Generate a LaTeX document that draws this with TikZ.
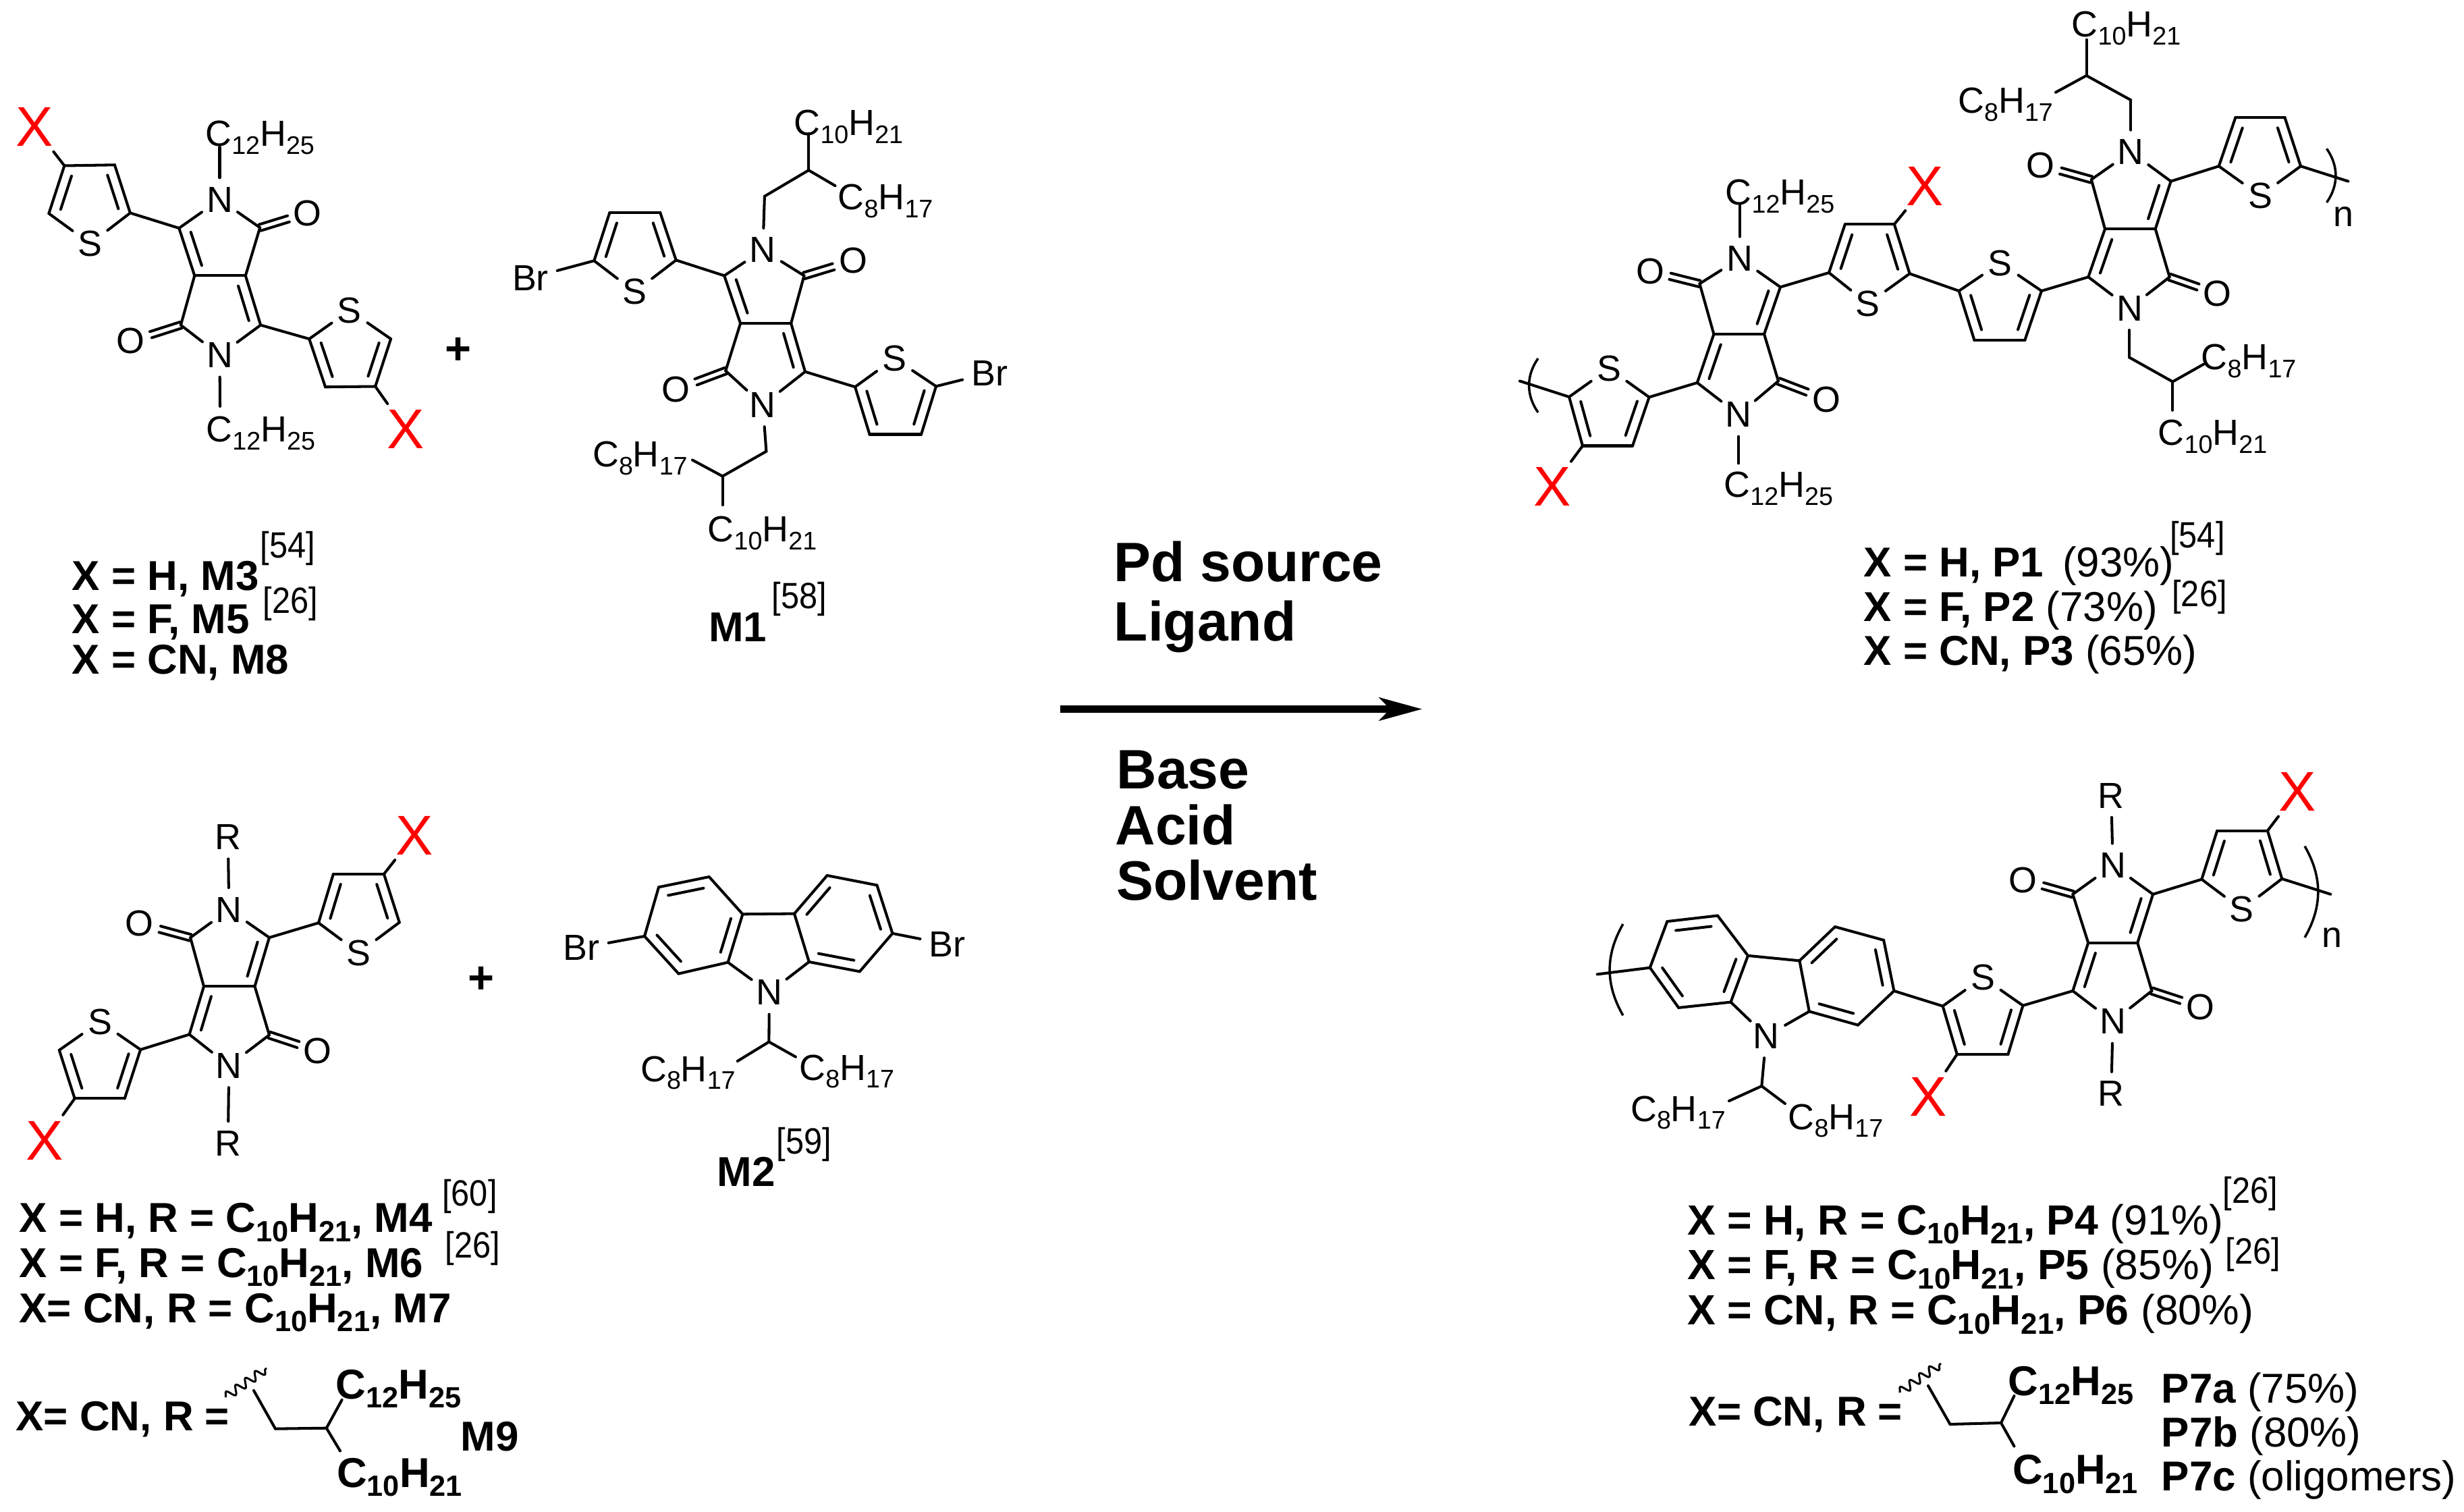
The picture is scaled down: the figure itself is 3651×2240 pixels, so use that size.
\documentclass[tikz,border=0pt]{standalone}
\usepackage{fontspec}
\setmainfont{Liberation Sans}
\usetikzlibrary{calc,arrows.meta,decorations.pathmorphing}

\newcommand{\sbc}[1]{\raisebox{-.22em}{\scalebox{.7}{#1}}}
\newcommand{\alkyl}[2]{C\sbc{#1}H\sbc{#2}}
\newcommand{\citeno}[1]{\scalebox{.9}[1]{[#1]}}
\newcommand{\dbond}[2]{\draw[bond] ($(#1)!.15!(#2)!4.2pt!90:(#2)$) -- ($(#2)!.15!(#1)!4.2pt!-90:(#1)$);}
\newcommand{\cobond}[2]{%
  \coordinate (cotip) at ($(#1)!.6!(#2)$);
  \draw[bond] ($(#1)!1.35pt!90:(#2)$) -- ($(cotip)!1.35pt!-90:(#1)$);
  \draw[bond] ($(#1)!1.35pt!-90:(#2)$) -- ($(cotip)!1.35pt!90:(#1)$);}
\newcommand{\thio}[6]{%
  \node[atom] (#1s) at (#2) {S};
  \coordinate (#11) at (#3); \coordinate (#12) at (#4);
  \coordinate (#13) at (#5); \coordinate (#14) at (#6);
  \path[bond] (#1s) edge (#11) (#11) edge (#12) (#12) edge (#13) (#13) edge (#14) (#14) edge (#1s);
  \dbond{#11}{#12} \dbond{#13}{#14}}
\newcommand{\lactam}[7]{%
  \coordinate (#1c1) at (#2); \node[atom] (#1n) at (#3) {N};
  \coordinate (#1c2) at (#4); \node[atom] (#1o) at (#5) {O};
  \path[bond] (#1c1) edge (#1n) (#1n) edge (#1c2) (#1c1) edge (#6) (#1c2) edge (#7);
  \cobond{#1c2}{#1o}}
\newcommand{\carbrings}[1]{%
  \path[bond] (#11) edge (#12) (#12) edge (#13) (#13) edge (#14) (#14) edge (#15)
  (#15) edge (#16) (#16) edge (#11) (#14) edge (#17) (#17) edge (#18) (#18) edge (#19)
  (#19) edge (#110) (#110) edge (#111) (#111) edge (#112) (#112) edge (#17)
  (#15) edge (#1n) (#1n) edge (#112);
  \dbond{#13}{#12} \dbond{#15}{#14} \dbond{#11}{#16}
  \dbond{#18}{#17} \dbond{#110}{#19} \dbond{#112}{#111}}

\begin{document}
\begin{tikzpicture}[
    x=0.01cm,y=-0.01cm,
    bond/.style={line width=1.15pt,line cap=round},
    atom/.style={circle,inner sep=0pt,minimum size=18pt,font=\fontsize{15.3}{18}\selectfont},
    brom/.style={atom,minimum size=23pt},
    xatom/.style={circle,inner sep=0pt,minimum size=26pt,text=red,font=\fontsize{23.6}{28}\selectfont},
    chain/.style={anchor=base west,inner sep=0pt,xshift=-1.1pt,font=\fontsize{15.3}{18}\selectfont},
    tag/.style={anchor=base west,inner sep=0pt,font=\fontsize{17.6}{20}\selectfont\bfseries},
    tagp/.style={tag,font=\fontsize{17.8}{20}\selectfont\bfseries},
    refnum/.style={anchor=base west,inner sep=0pt,font=\fontsize{15.4}{18}\selectfont},
    cond/.style={anchor=base west,inner sep=0pt,font=\fontsize{23.4}{28}\selectfont\bfseries},
    plus/.style={inner sep=0pt,font=\fontsize{19}{20}\selectfont\bfseries},
    wavy/.style={line width=.85pt,decorate,decoration={snake,amplitude=1.8pt,segment length=5pt}}
    ]
    \useasboundingbox (0,0) rectangle (3651,2240);

    % M3 M5 M8
    \coordinate (a3) at (363.8,408.4);
    \coordinate (a4) at (288.3,408.4);
    \path[bond] (a3) edge (a4);
    \lactam{au}{265.3,338}{325.5,295.7}{385.2,337.2}{455.6,315.5}{a4}{a3}
    \lactam{ad}{386.2,481.6}{325.5,526.2}{267.9,481.6}{193.9,505.3}{a3}{a4}
    \dbond{auc1}{a4} \dbond{adc1}{a3}
    \thio{atl}{133.7,361}{192.9,315.5}{169.9,244.3}{95.4,245.5}{72.4,316.3}
    \thio{atr}{517.9,459.8}{458.2,502.1}{482.1,573.3}{556.1,572.5}{579.1,502.1}
    \node[xatom] (axl) at (51,188) {X};
    \node[xatom] (axr) at (601,636) {X};
    \node[chain] (art) at (307.6,217) {\alkyl{12}{25}};
    \node[chain] (arb) at (308.7,655) {\alkyl{12}{25}};
    \coordinate (artc) at (325.5,218);
    \coordinate (arbc) at (326,602);
    \path[bond] (atl1) edge (auc1) (atr1) edge (adc1) (atl3) edge (axl) (atr3) edge (axr)
    (aun) edge (artc) (adn) edge (arbc);
    \node[plus] (plusa) at (678.6,520) {+};

    % M1
    \coordinate (b3) at (1172.1,479.1);
    \coordinate (b4) at (1097.1,479.1);
    \path[bond] (b3) edge (b4);
    \lactam{bu}{1073.2,408.4}{1130.3,370.3}{1191.5,408.4}{1264,386.3}{b4}{b3}
    \lactam{bd}{1193,550.7}{1130.3,599.9}{1075.2,549.4}{1001.7,576.9}{b3}{b4}
    \dbond{buc1}{b4} \dbond{bdc1}{b3}
    \thio{btl}{940.5,432.3}{1001.7,385.4}{978.3,315.2}{903.3,315.2}{880.3,386.3}
    \thio{btr}{1325.2,531}{1267,573.2}{1288.5,643.5}{1365,643.5}{1387,572.3}
    \node[brom] (bbl) at (786,411.6) {Br};
    \node[brom] (bbr) at (1466,552.6) {Br};
    \node[chain] (bt10) at (1179.8,201) {\alkyl{10}{21}};
    \node[chain] (bt8) at (1245,311) {C\sbc{8}H\sbc{17}};
    \node[chain] (bb8) at (881.3,692) {C\sbc{8}H\sbc{17}};
    \node[chain] (bb10) at (1052,802.5) {\alkyl{10}{21}};
    \coordinate (bk1) at (1132.9,290.8);
    \coordinate (bj1) at (1198.2,252.2);
    \coordinate (be1) at (1198.2,198);
    \coordinate (be2) at (1237.5,275.2);
    \coordinate (bk2) at (1135.4,668.7);
    \coordinate (bj2) at (1070.6,705.5);
    \coordinate (be3) at (1026,681.5);
    \coordinate (be4) at (1070.6,748.2);
    \path[bond] (btl1) edge (buc1) (btr1) edge (bdc1) (btl4) edge (bbl) (btr4) edge (bbr)
    (bun) edge (bk1) (bk1) edge (bj1) (bj1) edge (be1) (bj1) edge (be2)
    (bdn) edge (bk2) (bk2) edge (bj2) (bj2) edge (be3) (bj2) edge (be4);

    % M4 M6 M7
    \coordinate (c3) at (302,1461.3);
    \coordinate (c4) at (377.5,1461.3);
    \path[bond] (c3) edge (c4);
    \lactam{cu}{399,1389}{339.3,1347.5}{282.1,1389}{206.6,1368.4}{c4}{c3}
    \lactam{cd}{280.6,1532.5}{339.3,1578.8}{399,1533.3}{470.4,1557}{c3}{c4}
    \dbond{c4}{cuc1} \dbond{c3}{cdc1}
    \thio{ctr}{531.6,1411.5}{591.8,1366.5}{568.9,1294.9}{493.9,1294.9}{472,1367.2}
    \thio{ctl}{148,1513.5}{87.8,1555.8}{110.7,1627.4}{184.7,1627.4}{208.2,1555}
    \node[xatom] (cxr) at (613.8,1237.5) {X};
    \node[xatom] (cxl) at (66.3,1689.5) {X};
    \node[atom] (crt) at (337.8,1240) {R};
    \node[atom] (crb) at (337.8,1693.5) {R};
    \path[bond] (ctr4) edge (cuc1) (ctl4) edge (cdc1) (ctr2) edge (cxr) (ctl2) edge (cxl)
    (cun) edge (crt) (cdn) edge (crb);
    \node[plus] (plusb) at (712.8,1452.3) {+};

    % M2
    \coordinate (g1) at (955,1387);
    \coordinate (g2) at (976,1314.3);
    \coordinate (g3) at (1050.7,1299);
    \coordinate (g4) at (1100.4,1354.3);
    \coordinate (g5) at (1078.6,1425.7);
    \coordinate (g6) at (1005.5,1442.5);
    \coordinate (g7) at (1177,1353.6);
    \coordinate (g8) at (1225.6,1297);
    \coordinate (g9) at (1299.4,1311.4);
    \coordinate (g10) at (1322.4,1382.8);
    \coordinate (g11) at (1273.8,1439.3);
    \coordinate (g12) at (1198.8,1425);
    \node[atom] (gn) at (1139.8,1470.3) {N};
    \carbrings{g}
    \node[brom] (gbl) at (861.2,1404.3) {Br};
    \node[brom] (gbr) at (1403.8,1399) {Br};
    \node[chain] (gl8) at (952.3,1602) {C\sbc{8}H\sbc{17}};
    \node[chain] (gr8) at (1187.7,1600) {C\sbc{8}H\sbc{17}};
    \coordinate (gj) at (1139.4,1543.5);
    \coordinate (ge1) at (1092.8,1572);
    \coordinate (ge2) at (1178.9,1565.7);
    \path[bond] (g1) edge (gbl) (g10) edge (gbr) (gn) edge (gj) (gj) edge (ge1) (gj) edge (ge2);

    % P1 P2 P3
    \coordinate (d3) at (2539.4,495);
    \coordinate (d4) at (2614,495);
    \path[bond] (d3) edge (d4);
    \lactam{du}{2638,425.3}{2577.7,383}{2518.4,420.3}{2445.4,402}{d4}{d3}
    \lactam{dd}{2514.8,567}{2576,614.3}{2635,564.6}{2706.4,592}{d3}{d4}
    \dbond{d4}{duc1} \dbond{d3}{ddc1}
    \coordinate (e3) at (3119,339.2);
    \coordinate (e4) at (3193.7,339.2);
    \path[bond] (e3) edge (e4);
    \lactam{eu}{3216.6,268.6}{3157.2,225}{3098.8,266}{3023,244.7}{e4}{e3}
    \lactam{ed}{3094.3,410.4}{3155.4,456.6}{3214.7,410.4}{3285,435}{e3}{e4}
    \dbond{e4}{euc1} \dbond{e3}{edc1}
    \thio{pa}{2384,546}{2325,588}{2345,660.5}{2419,660.5}{2443.6,588.4}
    \thio{pb}{2767.6,450}{2829.6,405.4}{2806.8,332.3}{2733.8,332.3}{2710,404}
    \thio{pc}{2963.8,389.5}{2902.6,431}{2925.4,503.9}{3000.3,503.9}{3025,431}
    \thio{pd}{3349,290}{3409,246.2}{3385.4,174}{3312.4,174}{3287.7,246.2}
    \node[xatom] (pxa) at (2300.3,721) {X};
    \node[xatom] (pxb) at (2852.4,276) {X};
    \node[chain] (dt) at (2560,304) {\alkyl{12}{25}};
    \node[chain] (db) at (2557.7,737) {\alkyl{12}{25}};
    \coordinate (dtc) at (2577.7,303);
    \coordinate (dbc) at (2576,686.4);
    \coordinate (ptl) at (2252,564.5);
    \coordinate (ptr) at (3479.4,268.6);
    \coordinate (pl1) at (2279,531);
    \coordinate (pl2) at (2279,611);
    \coordinate (pr1) at (3447.5,220.3);
    \coordinate (pr2) at (3447.5,300);
    \node[atom] (pn) at (3472,321) {n};
    \path[bond] (pa1) edge (ptl) (pa2) edge (pxa) (pa4) edge (ddc1) (duc1) edge (pb4)
    (pb2) edge (pxb) (pb1) edge (pc1) (pc4) edge (edc1) (euc1) edge (pd4) (pd1) edge (ptr)
    (dun) edge (dtc) (ddn) edge (dbc);
    \draw[line width=1pt] (pl1) to[bend right=35] (pl2);
    \draw[line width=1pt] (pr1) to[bend left=35] (pr2);
    \node[chain] (et10) at (3073,55) {\alkyl{10}{21}};
    \node[chain] (et8) at (2904.5,168) {C\sbc{8}H\sbc{17}};
    \node[chain] (eb8) at (3265,548) {C\sbc{8}H\sbc{17}};
    \node[chain] (eb10) at (3201,660) {\alkyl{10}{21}};
    \coordinate (ek1) at (3157.2,148.2);
    \coordinate (ej1) at (3091.5,112);
    \coordinate (ee1) at (3091.5,58.7);
    \coordinate (ee2) at (3046,136.8);
    \coordinate (ek2) at (3155.4,529.7);
    \coordinate (ej2) at (3219.3,565.5);
    \coordinate (ee3) at (3265,539.7);
    \coordinate (ee4) at (3219.3,607.8);
    \path[bond] (eun) edge (ek1) (ek1) edge (ej1) (ej1) edge (ee1) (ej1) edge (ee2)
    (edn) edge (ek2) (ek2) edge (ej2) (ej2) edge (ee3) (ej2) edge (ee4);

    % P4 P5 P6
    \coordinate (h1) at (2444.8,1433.6);
    \coordinate (h2) at (2470.3,1365.1);
    \coordinate (h3) at (2545,1356.5);
    \coordinate (h4) at (2590,1415.8);
    \coordinate (h5) at (2564.5,1484.6);
    \coordinate (h6) at (2487.2,1492.9);
    \coordinate (h7) at (2666.4,1423.3);
    \coordinate (h8) at (2719,1373);
    \coordinate (h9) at (2791.1,1392.8);
    \coordinate (h10) at (2806.4,1468);
    \coordinate (h11) at (2753,1518.6);
    \coordinate (h12) at (2680.8,1498.4);
    \node[atom] (hn) at (2617,1535) {N};
    \carbrings{h}
    \coordinate (f3) at (3094.2,1396.8);
    \coordinate (f4) at (3167.2,1396.8);
    \path[bond] (f3) edge (f4);
    \lactam{fu}{3190.1,1324.8}{3130.7,1282}{3071.3,1324.8}{2997.4,1303.9}{f4}{f3}
    \lactam{fd}{3071.3,1468}{3130.7,1513.4}{3188.4,1468}{3260.6,1491.7}{f3}{f4}
    \dbond{f4}{fuc1} \dbond{f3}{fdc1}
    \thio{qa}{2938,1448.2}{2878.6,1490.5}{2899.8,1562}{2975.4,1562}{2997.4,1489.7}
    \thio{qb}{3321.7,1347.4}{3381.2,1301.9}{3359.9,1230.7}{3285.2,1230.7}{3262.3,1302.7}
    \node[xatom] (qxa) at (2857.4,1625.3) {X};
    \node[xatom] (qxb) at (3404,1172.6) {X};
    \node[atom] (frt) at (3128.2,1178.5) {R};
    \node[atom] (frb) at (3128.2,1620.2) {R};
    \node[chain] (hl8) at (2419.3,1661) {C\sbc{8}H\sbc{17}};
    \node[chain] (hr8) at (2652.8,1673) {C\sbc{8}H\sbc{17}};
    \coordinate (hj) at (2610.3,1609);
    \coordinate (he1) at (2562,1631);
    \coordinate (he2) at (2645,1635);
    \coordinate (qtl) at (2366.7,1443.4);
    \coordinate (qtr) at (3453.3,1324.8);
    \coordinate (ql1) at (2404.9,1369);
    \coordinate (ql2) at (2404.9,1504.3);
    \coordinate (qr1) at (3415,1253.6);
    \coordinate (qr2) at (3415,1388.9);
    \node[atom] (qn) at (3455,1389) {n};
    \path[bond] (h1) edge (qtl) (h10) edge (qa1) (qa2) edge (qxa) (qa4) edge (fdc1)
    (fuc1) edge (qb4) (qb2) edge (qxb) (qb1) edge (qtr)
    (fun) edge (frt) (fdn) edge (frb)
    (hn) edge (hj) (hj) edge (he1) (hj) edge (he2);
    \draw[line width=1pt] (ql1) to[bend right=30] (ql2);
    \draw[line width=1pt] (qr1) to[bend left=30] (qr2);

    % reaction arrow
    \coordinate (arl) at (1571,1050.5);
    \coordinate (arr) at (2107.4,1050.5);
    \draw[line width=3pt,-{Stealth[length=18pt,width=9.6pt,inset=4.5pt]}] (arl) -- (arr);
    \node[cond] (cpd) at (1650,861.8) {Pd source};
    \node[cond] (clg) at (1650,949) {Ligand};
    \node[cond] (cba) at (1654,1168) {Base};
    \node[cond] (cac) at (1652,1251.4) {Acid};
    \node[cond] (cso) at (1654,1333) {Solvent};

    % compound lists
    \node[tag] (lm3) at (106,874) {X = H, M3};
    \node[tag] (lm5) at (106,938.3) {X = F, M5};
    \node[tag] (lm8) at (106,998) {X = CN, M8};
    \node[refnum] (r54a) at (385,827) {\citeno{54}};
    \node[refnum] (r26a) at (389,909) {\citeno{26}};
    \node[tag] (lm1) at (1049.5,950) {M1};
    \node[refnum] (r58) at (1143,901.7) {\citeno{58}};
    \node[tag] (lm2) at (1062,1757.8) {M2};
    \node[refnum] (r59) at (1150,1709.6) {\citeno{59}};

    \node[tag] (lm4) at (28,1825.7) {X = H, R = \alkyl{10}{21}, M4};
    \node[tag] (lm6) at (28,1892) {X = F, R = \alkyl{10}{21}, M6};
    \node[tag] (lm7) at (28,1959) {X= CN, R = \alkyl{10}{21}, M7};
    \node[refnum] (r60) at (654.6,1786) {\citeno{60}};
    \node[refnum] (r26b) at (659,1863.6) {\citeno{26}};

    \node[tag] (lm9r) at (23,2119) {X= CN, R =};
    \coordinate (mw1) at (334,2070);
    \coordinate (mw2) at (395,2027);
    \coordinate (mb1) at (376,2060);
    \coordinate (mb2) at (408,2116.7);
    \coordinate (mb3) at (483.7,2115.7);
    \coordinate (mb4) at (506.6,2074);
    \coordinate (mb5) at (504,2149.5);
    \draw[wavy] (mw1) -- (mw2);
    \path[bond] (mb1) edge (mb2) (mb2) edge (mb3) (mb3) edge (mb4) (mb3) edge (mb5);
    \node[tag] (m12) at (497,2072) {\alkyl{12}{25}};
    \node[tag] (m10) at (498.5,2203) {\alkyl{10}{21}};
    \node[tag] (lm9) at (682,2149.5) {M9};

    \node[tag] (lp1) at (2761,854.3) {X = H, P1\hspace{.45em}{\mdseries (93\%)}};
    \node[tag] (lp2) at (2761,920) {X = F, P2 {\mdseries (73\%)}};
    \node[tag] (lp3) at (2761,985) {X = CN, P3 {\mdseries (65\%)}};
    \node[refnum] (r54b) at (3214.6,811.7) {\citeno{54}};
    \node[refnum] (r26c) at (3217.7,899) {\citeno{26}};

    \node[tagp] (lp4) at (2500,1829) {X = H, R = \alkyl{10}{21}, P4 {\mdseries (91\%)}};
    \node[tagp] (lp5) at (2500,1895.6) {X = F, R = \alkyl{10}{21}, P5 {\mdseries (85\%)}};
    \node[tagp] (lp6) at (2500,1962.4) {X = CN, R = \alkyl{10}{21}, P6 {\mdseries (80\%)}};
    \node[refnum] (r26d) at (3293,1782.6) {\citeno{26}};
    \node[refnum] (r26e) at (3297,1872) {\citeno{26}};

    \node[tag] (lp7r) at (2502,2112) {X= CN, R =};
    \coordinate (pw1) at (2814.6,2063);
    \coordinate (pw2) at (2876,2020);
    \coordinate (pb1) at (2857,2053);
    \coordinate (pb2) at (2889.5,2110);
    \coordinate (pb3) at (2965,2108);
    \coordinate (pb4) at (2984.5,2068);
    \coordinate (pb5) at (2984.5,2142.6);
    \draw[wavy] (pw1) -- (pw2);
    \path[bond] (pb1) edge (pb2) (pb2) edge (pb3) (pb3) edge (pb4) (pb3) edge (pb5);
    \node[tag] (p12) at (2975,2067) {\alkyl{12}{25}};
    \node[tag] (p10) at (2981.5,2198.7) {\alkyl{10}{21}};
    \node[tag] (lp7a) at (3202,2078) {P7a {\mdseries (75\%)}};
    \node[tag] (lp7b) at (3202,2143) {P7b {\mdseries (80\%)}};
    \node[tag] (lp7c) at (3202,2208) {P7c {\mdseries (oligomers)}};

  \end{tikzpicture}
\end{document}
